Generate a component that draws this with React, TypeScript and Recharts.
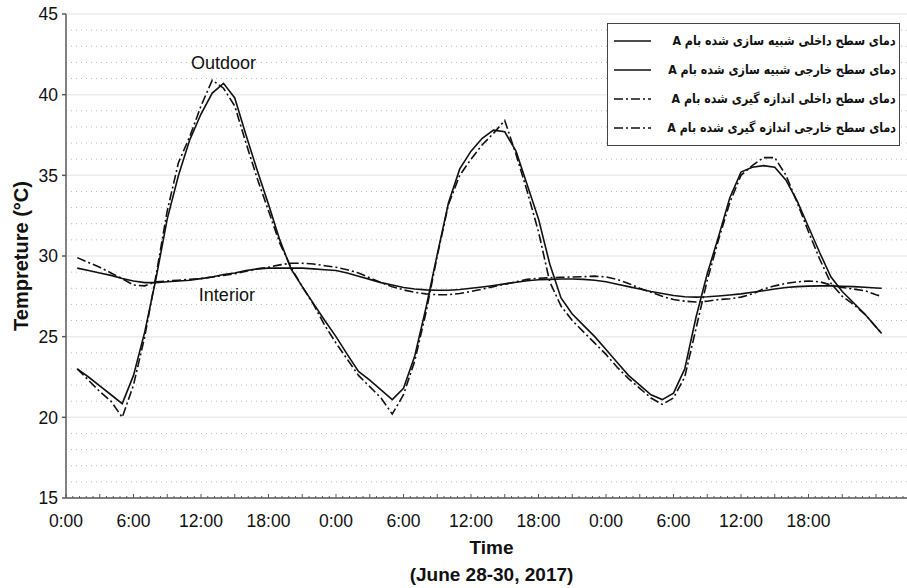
import { LineChart, Line, XAxis, YAxis, CartesianGrid, ReferenceLine, ReferenceDot, Legend, Label } from 'recharts';

// time in hours from 0:00 June 28
const hours = [
  1, 2, 3, 4, 5, 6, 7, 8, 9, 10, 11, 12,
  13, 14, 15, 16, 17, 18, 19, 20, 21, 22, 23, 24,
  25, 26, 27, 28, 29, 30, 31, 32, 33, 34, 35, 36,
  37, 38, 39, 40, 41, 42, 43, 44, 45, 46, 47, 48,
  49, 50, 51, 52, 53, 54, 55, 56, 57, 58, 59, 60,
  61, 62, 63, 64, 65, 66, 67, 68, 69, 70, 71, 72, 72.5,
];

const outdoorSim = [
  23.0, 22.5, 21.95, 21.4, 20.85, 22.6, 25.3, 28.6, 32.3, 35.0, 37.2, 38.8,
  40.1, 40.7, 39.8, 37.5, 35.3, 33.2, 31.0, 29.2, 28.1, 27.05, 26.0, 25.0,
  23.9, 22.85, 22.3, 21.7, 21.1, 21.8, 23.8, 26.8, 30.1, 33.3, 35.4, 36.5,
  37.3, 37.8, 37.7, 36.5, 34.4, 32.3, 29.5, 27.4, 26.4, 25.7, 25.0, 24.2,
  23.4, 22.6, 22.0, 21.4, 21.1, 21.5, 23.0, 26.2, 28.9, 31.2, 33.6, 35.2,
  35.5, 35.6, 35.5, 34.7, 33.4, 31.8, 30.2, 28.7, 27.8, 27.1, 26.4, 25.6, 25.2,
];

const outdoorMeas = [
  23.0, 22.3, 21.6, 21.0, 20.0, 22.0, 25.0, 28.8, 32.8, 35.8, 37.4, 39.3,
  40.9, 40.4, 39.3, 37.0, 34.8, 32.8, 30.8, 29.3, 28.1, 27.0, 25.7, 24.6,
  23.6, 22.6, 21.9, 21.2, 20.2, 21.4, 23.5, 26.5, 30.0, 33.2, 35.0, 36.0,
  36.9, 37.6, 38.4, 36.3, 34.0, 31.5, 28.4, 26.9, 26.0, 25.3, 24.6, 23.9,
  23.1, 22.4, 21.8, 21.2, 20.8, 21.2, 22.5, 25.5, 28.5, 31.0, 33.3, 35.0,
  35.6, 36.1, 36.1, 35.0, 33.3, 31.5, 29.8, 28.3, 27.5, 27.0, 26.4, 25.6, 25.2,
];

const interiorSim = [
  29.25, 29.1, 28.95, 28.8, 28.6, 28.45, 28.35, 28.35, 28.4, 28.45, 28.5, 28.6,
  28.7, 28.85, 28.95, 29.1, 29.2, 29.25, 29.25, 29.25, 29.25, 29.2, 29.15, 29.1,
  28.95, 28.75, 28.55, 28.35, 28.2, 28.05, 27.95, 27.9, 27.88, 27.88, 27.92, 28.0,
  28.08, 28.17, 28.27, 28.37, 28.47, 28.53, 28.55, 28.57, 28.57, 28.55, 28.5, 28.4,
  28.25, 28.1, 27.95, 27.8, 27.68, 27.55, 27.47, 27.45, 27.47, 27.52, 27.58, 27.65,
  27.75, 27.85, 27.95, 28.05, 28.1, 28.13, 28.15, 28.15, 28.12, 28.1, 28.06, 28.02, 28.0,
];

const interiorMeas = [
  29.9, 29.6, 29.3, 28.95, 28.6, 28.2, 28.15, 28.4, 28.45, 28.5, 28.55, 28.6,
  28.7, 28.8, 28.9, 29.05, 29.2, 29.3, 29.45, 29.55, 29.55, 29.5, 29.4, 29.3,
  29.15, 28.95, 28.65, 28.35, 28.1, 27.9, 27.75, 27.65, 27.6, 27.6, 27.68, 27.8,
  27.95, 28.1, 28.25, 28.4, 28.55, 28.62, 28.65, 28.68, 28.7, 28.72, 28.75, 28.7,
  28.55, 28.3, 28.0, 27.75, 27.5, 27.3, 27.2, 27.15, 27.2, 27.3, 27.35, 27.45,
  27.65, 27.95, 28.15, 28.3, 28.4, 28.45, 28.4, 28.2, 28.05, 27.95, 27.85, 27.6, 27.5,
];

const xLabels = ['0:00', '6:00', '12:00', '18:00', '0:00', '6:00', '12:00', '18:00', '0:00', '6:00', '12:00', '18:00'];
const yTicks = [15, 20, 25, 30, 35, 40, 45];
const dottedGrid = [16, 17, 18, 19, 21, 22, 23, 24, 26, 27, 28, 29, 31, 32, 33, 34, 36, 37, 38, 39, 41, 42, 43, 44];

const series = [
  { key: 'is', name: 'دمای سطح داخلی شبیه سازی شده بام A', dash: undefined as string | undefined },
  { key: 'os', name: 'دمای سطح خارجی شبیه سازی شده بام A', dash: undefined as string | undefined },
  { key: 'im', name: 'دمای سطح داخلی اندازه گیری شده بام A', dash: '9 3 2 3' },
  { key: 'om', name: 'دمای سطح خارجی اندازه گیری شده بام A', dash: '9 3 2 3' },
];

const data = hours.map((h, i) => ({
  h,
  os: outdoorSim[i],
  om: outdoorMeas[i],
  is: interiorSim[i],
  im: interiorMeas[i],
}));

// small ticks every 36 min, bigger every 3 h, labels every 6 h
const STEP = 0.6;
const minorTicks = Array.from({ length: 127 }, (_, i) => Number((i * STEP).toFixed(2)));

const AXIS = '#5a5a5a';
const INK = '#111';

const BottomTick = (props: any) => {
  const { x, y, payload } = props;
  const i = Math.round(payload.value / STEP);
  const lab = i % 10 === 0 ? xLabels[i / 10] : undefined;
  return (
    <g>
      <line x1={x} x2={x} y1={y} y2={y - (i % 5 === 0 ? 4 : 2)} stroke={AXIS} strokeWidth={1} />
      {lab && (
        <text x={x} y={y + 29} textAnchor="middle" fontSize={17.5} fill={INK}>{lab}</text>
      )}
    </g>
  );
};

const TopTick = (props: any) => {
  const { x, y, payload } = props;
  const i = Math.round(payload.value / STEP);
  return <line x1={x} x2={x} y1={y} y2={y + (i % 5 === 0 ? 4 : 2)} stroke={AXIS} strokeWidth={1} />;
};

const XTitle = (props: any) => {
  const vb = props.viewBox;
  const cx = vb.x + vb.width / 2 - 2;
  return (
    <g>
      <text x={cx} y={vb.y + 56} textAnchor="middle" fontSize={19} fontWeight="bold" fill={INK}>Time</text>
      <text x={cx} y={vb.y + 83} textAnchor="middle" fontSize={19} fontWeight="bold" fill={INK}>(June 28-30, 2017)</text>
    </g>
  );
};

const YTitle = (props: any) => {
  const vb = props.viewBox;
  const cx = vb.x + 21;
  const cy = vb.y + vb.height / 2;
  return (
    <text x={cx} y={cy} dy="0.35em" textAnchor="middle" fontSize={20} fontWeight="bold" fill={INK}
      transform={`rotate(-90, ${cx}, ${cy})`}>Tempreture (°C)</text>
  );
};

const renderLegend = () => (
  <div style={{ boxSizing: 'border-box', width: 293, height: 123, border: '1px solid #444', background: '#fff', paddingTop: 2 }}>
    {series.map(s => (
      <div key={s.key} style={{ display: 'flex', alignItems: 'center', height: 29 }}>
        <svg width={46} height={10} style={{ flex: 'none' }}>
          <line x1={6} x2={43} y1={5} y2={5} stroke={INK} strokeWidth={1.6} strokeDasharray={s.dash} />
        </svg>
        <div style={{ flex: 1, minWidth: 0, display: 'flex', justifyContent: 'flex-end', paddingRight: 3 }}>
          <span dir="rtl" style={{ display: 'inline-block', transform: 'scaleX(0.85)', transformOrigin: 'right center', fontWeight: 'bold', fontSize: 13, fontFamily: '"DejaVu Sans", sans-serif', color: INK, whiteSpace: 'nowrap' }}>
            {s.name}
          </span>
        </div>
      </div>
    ))}
  </div>
);

export default function App() {
  return (
    <div style={{ position: 'fixed', left: 0, top: 0, width: 907, height: 588, overflow: 'hidden', background: '#fff' }}>
      <LineChart width={921} height={588} data={data} margin={{ top: 14, right: 0, bottom: 0, left: 0 }}
        style={{ fontFamily: '"Liberation Sans", Arial, sans-serif' }}>
        <CartesianGrid vertical={false} stroke="#ececec" strokeWidth={1.5} />
        {dottedGrid.map(v => (
          <ReferenceLine key={v} y={v} stroke="#b8b8b8" strokeDasharray="1 4" strokeWidth={1} />
        ))}
        <XAxis dataKey="h" type="number" domain={[0, 76]} ticks={minorTicks} interval={0} height={90}
          tickSize={0} tickMargin={0} tickLine={false} tick={<BottomTick />} stroke={AXIS} strokeWidth={1.5}>
          <Label content={<XTitle />} />
        </XAxis>
        <XAxis xAxisId="top" orientation="top" dataKey="h" type="number" domain={[0, 76]} ticks={minorTicks}
          interval={0} height={0} tickSize={0} tickMargin={0} tickLine={false} tick={<TopTick />} stroke={AXIS} strokeWidth={1.5} />
        <YAxis type="number" domain={[15, 45]} ticks={yTicks} interval={0} width={66} tickSize={4} tickMargin={4}
          stroke={AXIS} strokeWidth={1.5} tick={{ fontSize: 17.5, fill: INK }}>
          <Label content={<YTitle />} />
        </YAxis>
        <Legend content={renderLegend} layout="horizontal" align="center" verticalAlign="middle"
          wrapperStyle={{ left: 607, top: 23, width: 293, height: 123 }} />
        {series.map(s => (
          <Line key={s.key} dataKey={s.key} name={s.name} type="linear" stroke={INK} strokeWidth={1.6}
            strokeDasharray={s.dash} dot={false} activeDot={false} isAnimationActive={false} />
        ))}
        <ReferenceDot x={14} y={42} r={1} fill="none" stroke="none"
          label={{ value: 'Outdoor', position: 'center', fontSize: 18, fill: INK }} />
        <ReferenceDot x={14.3} y={27.6} r={1} fill="none" stroke="none"
          label={{ value: 'Interior', position: 'center', fontSize: 18, fill: INK }} />
      </LineChart>
    </div>
  );
}
